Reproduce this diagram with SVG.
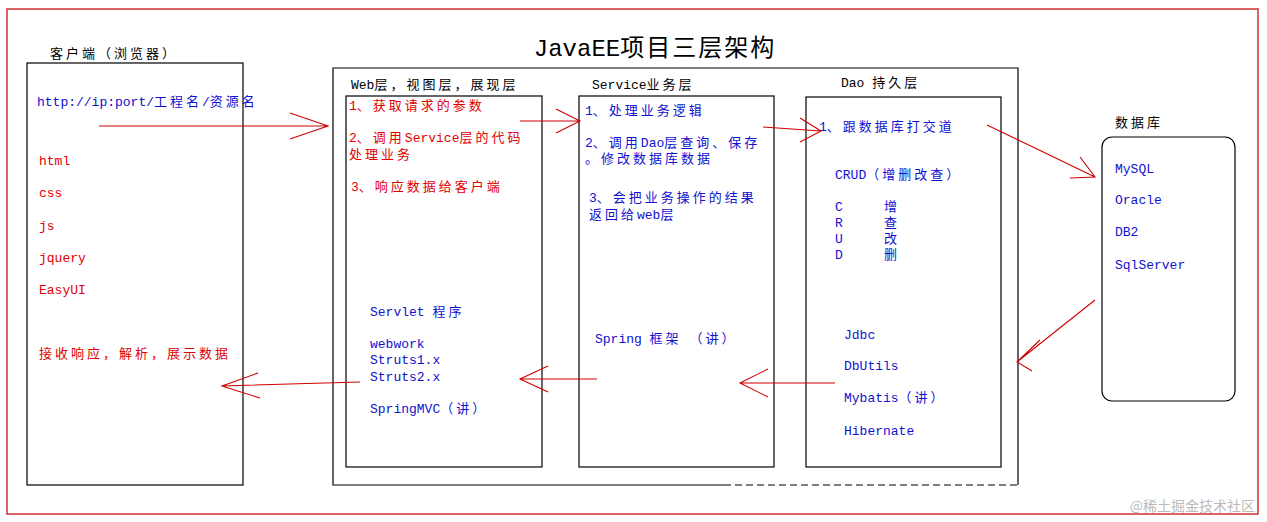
<svg xmlns="http://www.w3.org/2000/svg" width="1267" height="522" viewBox="0 0 1267 522">
<style>
text{font-family:"Liberation Mono","Noto Sans CJK SC",monospace;font-size:13px}
tspan.c{letter-spacing:3px}
.k{fill:#000}.r{fill:#e00000}.b{fill:#1010d0}
.box{fill:none;stroke:#000;stroke-width:1.2}
.ar{fill:none;stroke:#d00000;stroke-width:1.1}
</style>
<rect width="1267" height="522" fill="#fff"/>
<rect x="7" y="9" width="1251" height="505" fill="none" stroke="#d03030" stroke-width="1.5"/>
<text x="655" y="56" text-anchor="middle" style="font-size:24px" class="k">JavaEE<tspan style="letter-spacing:2px">项目三层架构</tspan></text>
<g id="client"><rect class="box" x="27" y="63" width="216" height="422"/>
<text x="50" y="58" class="k"><tspan class="c">客户端（浏览器）</tspan></text>
<text x="37" y="106" class="b">http://ip:port/<tspan class="c">工程名</tspan>/<tspan class="c">资源名</tspan></text>
<text x="39" y="165" class="r">html</text><text x="39" y="197" class="r">css</text><text x="39" y="230" class="r">js</text><text x="39" y="262" class="r">jquery</text><text x="39" y="294" class="r">EasyUI</text>
<text x="39" y="358" class="r"><tspan class="c">接收响应，解析，展示数据</tspan></text></g>
<g id="server"><path class="box" d="M724,485 H333 V68 H1018 V485"/><path d="M724,485 H1018" fill="none" stroke="#000" stroke-width="1.2" stroke-dasharray="7,4"/></g>
<g id="web"><rect class="box" x="346" y="96" width="196" height="371"/>
<text x="351" y="89" class="k">Web<tspan class="c">层，视图层，展现层</tspan></text>
<text x="349" y="110" class="r">1<tspan class="c">、获取请求的参数</tspan></text>
<text x="349" y="142" class="r">2<tspan class="c">、调用</tspan>Service<tspan class="c">层的代码</tspan></text><text x="349" y="159" class="r"><tspan class="c">处理业务</tspan></text>
<text x="351" y="191" class="r">3<tspan class="c">、响应数据给客户端</tspan></text>
<text x="370" y="316" class="b">Servlet <tspan class="c">程序</tspan></text>
<text x="370" y="348" class="b">webwork</text><text x="370" y="364" class="b">Struts1.x</text><text x="370" y="381" class="b">Struts2.x</text>
<text x="370" y="413" class="b">SpringMVC<tspan class="c">（讲）</tspan></text></g>
<g id="service"><rect class="box" x="579" y="96" width="195" height="371"/>
<text x="592" y="89" class="k">Service<tspan class="c">业务层</tspan></text>
<text x="585" y="115" class="b">1<tspan class="c">、处理业务逻辑</tspan></text>
<text x="585" y="147" class="b">2<tspan class="c">、调用</tspan>Dao<tspan class="c">层查询、保存</tspan></text><text x="585" y="163" class="b"><tspan class="c">。修改数据库数据</tspan></text>
<text x="589" y="202" class="b">3<tspan class="c">、会把业务操作的结果</tspan></text><text x="589" y="219" class="b"><tspan class="c">返回给</tspan>web<tspan class="c">层</tspan></text>
<text x="595" y="343" class="b">Spring <tspan class="c">框架</tspan> <tspan class="c">（讲）</tspan></text></g>
<g id="dao"><rect class="box" x="806" y="97" width="195" height="370"/>
<text x="841" y="87" class="k">Dao <tspan class="c">持久层</tspan></text>
<text x="819" y="131" class="b">1<tspan class="c">、跟数据库打交道</tspan></text>
<text x="835" y="179" class="b">CRUD<tspan class="c">（增删改查）</tspan></text>
<text x="835" y="211" class="b">C</text><text x="835" y="227" class="b">R</text><text x="835" y="243" class="b">U</text><text x="835" y="259" class="b">D</text>
<text x="884" y="211" class="b">增</text><text x="884" y="227" class="b">查</text><text x="884" y="243" class="b">改</text><text x="884" y="259" class="b">删</text>
<text x="844" y="339" class="b">Jdbc</text><text x="844" y="370" class="b">DbUtils</text><text x="844" y="402" class="b">Mybatis<tspan class="c">（讲）</tspan></text><text x="844" y="435" class="b">Hibernate</text></g>
<g id="db"><rect class="box" x="1102" y="137" width="133" height="264" rx="10"/>
<text x="1115" y="127" class="k"><tspan class="c">数据库</tspan></text>
<text x="1115" y="173" class="b">MySQL</text><text x="1115" y="204" class="b">Oracle</text><text x="1115" y="236" class="b">DB2</text><text x="1115" y="269" class="b">SqlServer</text></g>
<g id="connectors">
<path class="ar" d="M99,126 H328 M290,113 L328,126 L290,139"/>
<path class="ar" d="M520,121 H580 M556,109 L580,121 L556,133"/>
<path class="ar" d="M763,127 L821,131 M800,118 L821,131 L800,142"/>
<path class="ar" d="M987,125 L1095,177 M1080,157 L1095,177 L1070,178"/>
<path class="ar" d="M1095,300 L1017,362 M1040,340 L1017,362 L1032,371"/>
<path class="ar" d="M835,383 H740 M768,369 L740,383 L768,397"/>
<path class="ar" d="M597,379 H520 M548,366 L520,379 L548,392"/>
<path class="ar" d="M360,382 L222,386 M258,373 L222,386 L260,398"/>
</g>
<text x="1255" y="511" text-anchor="end" style="font-family:'Noto Sans CJK SC',sans-serif;font-size:14px;fill:#bbb">@稀土掘金技术社区</text>
</svg>
